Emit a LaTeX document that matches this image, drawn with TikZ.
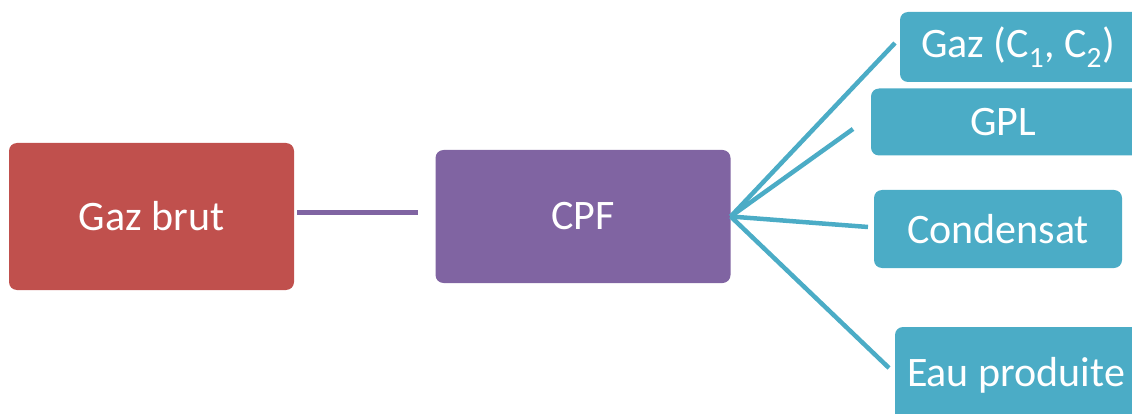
\documentclass[tikz,border=0pt]{standalone}
\usepackage{fontspec}
\setmainfont{Carlito}
\definecolor{brutred}{HTML}{C0504D}
\definecolor{cpfpurple}{HTML}{8064A2}
\definecolor{prodteal}{HTML}{4BACC6}
\begin{document}
\begin{tikzpicture}[x=1pt,y=-1pt,
  box/.style={rounded corners=8pt, inner sep=0pt, text=white,
    font=\fontsize{42}{50}\selectfont},
  link/.style={line width=4.5pt}]
\useasboundingbox (0,0) rectangle (1132,414);
\clip (0,0) rectangle (1132,414);
% source and processing boxes
\node[box, fill=brutred, minimum width=285pt, minimum height=147pt] (brut) at (151.5,216.5) {Gaz brut};
\node[box, fill=cpfpurple, minimum width=295pt, minimum height=133pt] (cpf) at (583,216.5) {CPF};
% product boxes (the right-hand ones run past the page edge)
\node[box, fill=prodteal, minimum width=250pt, minimum height=70pt] (gaz) at (1025,47) {Gaz (C\textsubscript{1}, C\textsubscript{2})\hspace*{14pt}};
\node[box, fill=prodteal, minimum width=279pt, minimum height=67pt] (gpl) at (1010.5,122) {GPL\hspace*{15pt}};
\node[box, fill=prodteal, minimum width=248pt, minimum height=78pt] (cond) at (998,229) {Condensat};
\node[box, fill=prodteal, minimum width=255pt, minimum height=96pt] (eau) at (1022.5,375) {Eau produite\hspace*{13pt}};
% free ends of the connectors
\coordinate (brutend) at (297,212.5);
\coordinate (cpfin) at (418,212.5);
\coordinate (gazend) at (895,43);
\coordinate (gplend) at (853,129);
\coordinate (condend) at (868,227);
\coordinate (eauend) at (889,368);
% connectors
\draw[link, cpfpurple, line width=5pt] (brutend) -- (cpfin);
\draw[link, prodteal] (cpf.east) -- (gazend);
\draw[link, prodteal] (cpf.east) -- (gplend);
\draw[link, prodteal] (cpf.east) -- (condend);
\draw[link, prodteal] (cpf.east) -- (eauend);
\end{tikzpicture}
\end{document}
